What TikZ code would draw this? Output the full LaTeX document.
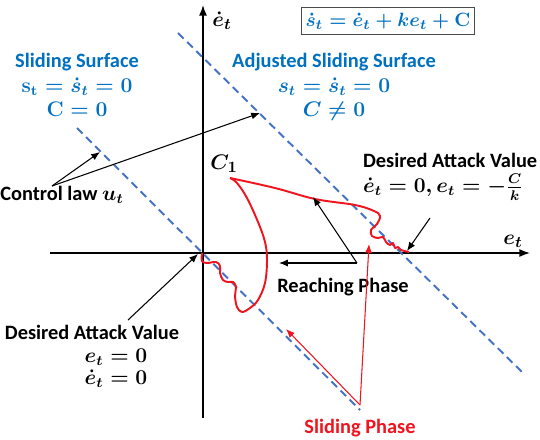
\documentclass[tikz,border=0pt]{standalone}
\usepackage{amsmath}
\usepackage[no-math]{fontspec}
\setmainfont{Carlito}
\usetikzlibrary{arrows.meta}
\definecolor{surfblue}{RGB}{0,112,192}
\definecolor{dashblue}{RGB}{68,114,196}
\definecolor{phasered}{RGB}{240,20,30}
\tikzset{
    axis/.style={line width=0.8pt,-{Latex[length=6pt,width=4.5pt]}},
    surface/.style={dashblue,line width=1.1pt,dash pattern=on 4.5pt off 2.8pt},
    pointer/.style={line width=0.6pt,-{Latex[length=5pt,width=4pt]}},
    redpointer/.style={pointer,phasered},
    lbl/.style={font=\fontsize{11.6}{14}\selectfont\bfseries\boldmath,inner sep=1pt},
    bluelbl/.style={lbl,surfblue,align=center},
    trajectory/.style={phasered,line width=1.1pt,line join=round}
}
\begin{document}
\begin{tikzpicture}[x=0.02cm,y=-0.02cm]
    \useasboundingbox (0,0) rectangle (540,439);
    % Оси координат
    \coordinate (O) at (203,253);
    \coordinate (xl) at (50,253);
    \coordinate (xr) at (530,253);
    \coordinate (yb) at (203,418);
    \coordinate (yt) at (203,5);
    \draw[line width=0.8pt] (xl) -- (O);
    \draw[axis] (O) -- (xr);
    \draw[line width=0.8pt] (yb) -- (O);
    \draw[axis] (O) -- (yt);
    \node[lbl,font=\fontsize{13}{15}\selectfont\boldmath] (etdot) at (222,21) {$\dot{e}_t$};
    \node[lbl,font=\fontsize{13}{15}\selectfont\boldmath] (et) at (513,241) {$e_t$};

    % Поверхности скольжения
    \coordinate (sa) at (77,128);
    \coordinate (sb) at (360,410);
    \coordinate (asa) at (178,33);
    \coordinate (asb) at (525,375);
    \draw[surface] (sa) -- (sb);
    \draw[surface] (asa) -- (asb);

    \node[lbl,font=\fontsize{11}{13}\selectfont\boldmath,surfblue,draw=black!70,line width=0.6pt,
        inner xsep=2.5pt,inner ysep=3pt] (law) at (388,21)
        {$\dot{s}_t = \dot{e}_t + ke_t + \mathbf{C}$};
    \node[bluelbl] (surf) at (77,85)
        {Sliding Surface\\ $\mathbf{s}_{\mathrm{t}} = \dot{s}_t = 0$\\ $\mathbf{C} = 0$};
    \node[bluelbl] (adjsurf) at (334,87)
        {Adjusted Sliding Surface\\ $s_t = \dot{s}_t = 0$\\ $C \neq 0$};

    % Траектория
    \draw[trajectory] plot[smooth,tension=0.6] coordinates {
        (202,253) (202,261) (207,263) (216,262) (220,266) (220,273) (223,280)
        (228,282) (233,282) (236,287) (235,296) (237,307) (242,312) (250,308)
        (258,300) (265,283) (267,260) (265,242) (258,222) (247,198) (237,183) (230,178)};
    \draw[trajectory] plot[smooth,tension=0.6] coordinates {
        (230,178) (275,188) (315,199) (355,205) (374,211) (380,216) (377,224)
        (371,230) (372,236) (378,238) (383,237) (386,242) (390,245) (393,243)
        (395,248) (398,247) (401,250) (409,252)};
    \node[lbl,font=\fontsize{13}{15}\selectfont\boldmath] (c1) at (224,164) {$C_1$};

    % Подписи и стрелки
    \node[lbl] (control) at (62,195) {Control law $u_t$};
    \coordinate (cl) at (52,186);
    \coordinate (cla) at (100,152);
    \coordinate (clb) at (260,113);
    \draw[pointer] (cl) -- (cla);
    \draw[pointer] (cl) -- (clb);

    \node[lbl,align=left,anchor=west] (davr) at (361,177)
        {Desired Attack Value\\ $\dot{e}_t = 0, e_t = -\frac{C}{k}$};
    \coordinate (dr) at (430,218);
    \coordinate (drt) at (407,251);
    \draw[pointer] (dr) -- (drt);

    \node[lbl] (reach) at (343,287) {Reaching Phase};
    \coordinate (rp) at (357,263);
    \coordinate (rpa) at (313,197);
    \coordinate (rpb) at (279,263);
    \draw[pointer] (rp) -- (rpa);
    \draw[pointer] (rp) -- (rpb);

    \node[lbl] (davl) at (92,332) {Desired Attack Value};
    \node[lbl,align=center,font=\fontsize{11.6}{12.5}\selectfont\bfseries\boldmath] (davleq) at (116,368)
        {$e_t = 0$\\ $\dot{e}_t = 0$};
    \coordinate (dl) at (128,320);
    \coordinate (dlt) at (198,254);
    \draw[pointer] (dl) -- (dlt);

    \node[lbl,phasered] (slide) at (360,428) {Sliding Phase};
    \coordinate (sp) at (360,405);
    \coordinate (spa) at (286,329);
    \coordinate (spb) at (369,244);
    \draw[redpointer] (sp) -- (spa);
    \draw[redpointer] (sp) -- (spb);
\end{tikzpicture}
\end{document}
